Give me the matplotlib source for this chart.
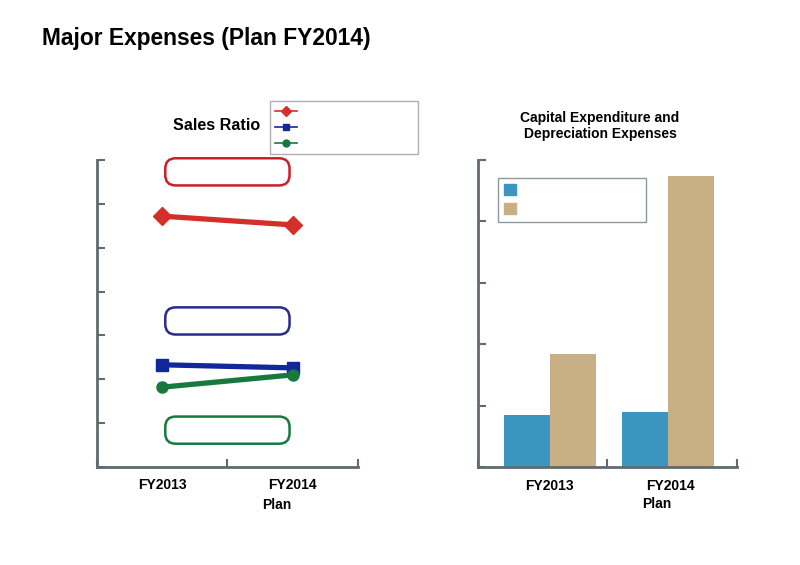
import matplotlib.pyplot as plt
from matplotlib.lines import Line2D
from matplotlib.patches import Patch

plt.rcParams["font.family"] = ["Liberation Sans", "DejaVu Sans"]

# sales ratio chart (no scale labels on the original)
years = ["FY2013", "FY2014"]
ratio_red = [5.72, 5.52]
ratio_blue = [2.33, 2.26]
ratio_green = [1.82, 2.10]

# capital expenditure / depreciation
capex = [0.85, 0.90]
depreciation = [1.84, 4.74]

RED = "#d3302a"
BLUE = "#13279a"
GREEN = "#18793e"
BAR_BLUE = "#3b96bf"
BAR_TAN = "#c8b084"
AXIS = "#5f6b6f"


def style_axes(ax, nticks):
    for s in ("top", "right"):
        ax.spines[s].set_visible(False)
    for s in ("left", "bottom"):
        ax.spines[s].set_color(AXIS)
        ax.spines[s].set_linewidth(2)
    ax.tick_params(axis="y", direction="in", length=6, width=1.5, color=AXIS,
                   labelleft=False)
    ax.tick_params(axis="x", direction="in", length=6, width=1.5, color=AXIS,
                   labelbottom=False)
    ax.set_xticks([0, 1, 2])
    ax.set_xlim(0, 2)
    ax.set_yticks(range(nticks + 1))
    ax.set_ylim(0, nticks)


fig = plt.figure(figsize=(8, 5.65), dpi=100)
fig.text(0.0525, 0.932, "Major Expenses (Plan FY2014)", fontsize=16.4,
         fontweight="bold", ha="left", va="center")

# ---- left: sales ratio ----
ax1 = fig.add_axes([0.121, 0.1735, 0.3265, 0.5433])
style_axes(ax1, 7)
xpos = [0.5, 1.5]
ax1.plot(xpos, ratio_red, color=RED, lw=3.8, marker="D", ms=9, clip_on=False)
ax1.plot(xpos, ratio_blue, color=BLUE, lw=3.8, marker="s", ms=8, clip_on=False)
ax1.plot(xpos, ratio_green, color=GREEN, lw=3.8, marker="o", ms=8, clip_on=False)

# empty rounded label boxes
for yb, c in [(6.73, "#c8202a"), (3.33, "#2a2a8a"), (0.84, GREEN)]:
    ax1.text(1.0, yb, " " * 23, ha="center", va="center", fontsize=12.5,
             bbox=dict(boxstyle="round,pad=0.35,rounding_size=0.6",
                       fc="white", ec=c, lw=1.8))

for x, lab in zip(xpos, years):
    ax1.text(x, -0.42, lab, ha="center", va="center", fontsize=10,
             fontweight="bold", clip_on=False)
ax1.text(1.38, -0.86, "Plan", ha="center", va="center", fontsize=10,
         fontweight="bold", clip_on=False)
fig.text(0.271, 0.777, "Sales Ratio", ha="center", va="center", fontsize=11.6,
         fontweight="bold")

h1 = [Line2D([], [], color=RED, marker="D", ms=5, lw=1.2),
      Line2D([], [], color=BLUE, marker="s", ms=5, lw=1.2),
      Line2D([], [], color=GREEN, marker="o", ms=5, lw=1.2)]
leg1 = fig.legend(h1, ["", "", ""], loc="upper left",
                  bbox_to_anchor=(0.3375, 0.0, 0.185, 0.8215),
                  mode="expand", borderaxespad=0, fontsize=7,
                  handlelength=2.2, labelspacing=0.65, borderpad=0.55,
                  fancybox=False, framealpha=1, edgecolor="#b0b0b0")
leg1.get_frame().set_linewidth(1)

# ---- right: capex / depreciation ----
ax2 = fig.add_axes([0.5975, 0.1735, 0.3235, 0.5433])
style_axes(ax2, 5)
gpos = [0.555, 1.465]
w = 0.355
ax2.bar([g - w / 2 for g in gpos], capex, width=w, color=BAR_BLUE)
ax2.bar([g + w / 2 for g in gpos], depreciation, width=w, color=BAR_TAN)
ax2.text(gpos[0], -0.31, years[0], ha="center", va="center", fontsize=10,
         fontweight="bold", clip_on=False)
ax2.text(gpos[1] + 0.02, -0.31, years[1], ha="center", va="center",
         fontsize=10, fontweight="bold", clip_on=False)
ax2.text(1.38, -0.6, "Plan", ha="center", va="center", fontsize=10,
         fontweight="bold", clip_on=False)
fig.text(0.75, 0.777, "Capital Expenditure and\nDepreciation Expenses",
         ha="center", va="center", fontsize=10, fontweight="bold",
         linespacing=1.12)

h2 = [Patch(color=BAR_BLUE), Patch(color=BAR_TAN)]
leg2 = fig.legend(h2, ["", ""], loc="upper left",
                  bbox_to_anchor=(0.6225, 0.0, 0.185, 0.685),
                  mode="expand", borderaxespad=0, fontsize=9,
                  handlelength=0.9, handleheight=1.0, labelspacing=0.45,
                  borderpad=0.5, fancybox=False, framealpha=1,
                  edgecolor="#8a9a9e")
leg2.get_frame().set_linewidth(1)

fig.savefig("out.png", dpi=100)
